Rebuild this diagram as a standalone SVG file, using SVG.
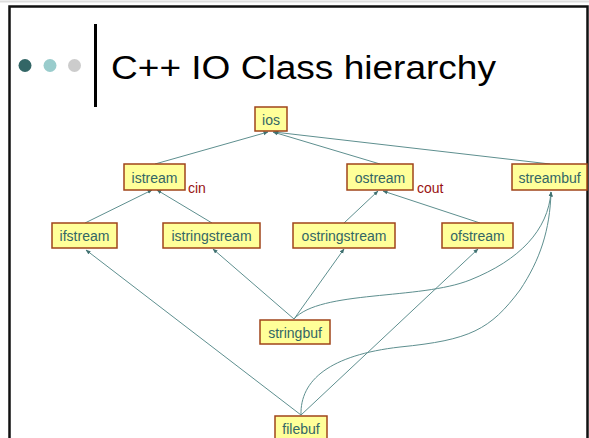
<svg xmlns="http://www.w3.org/2000/svg" width="589" height="438" viewBox="0 0 589 438">
<defs>
<style>
.box{fill:#FFFF99;stroke:#A0441A;stroke-width:1.5}
.lbl{font-family:"Liberation Sans",Arial,sans-serif;font-size:14px;fill:#336666;text-anchor:middle}
.var{font-family:"Liberation Sans",Arial,sans-serif;font-size:14px;fill:#991111}
.edge{fill:none;stroke:#5E8F8F;stroke-width:1;marker-end:url(#ah)}
</style>
<marker id="ah" viewBox="0 0 10 10" refX="9" refY="5" markerWidth="5" markerHeight="5" orient="auto" markerUnits="userSpaceOnUse">
<path d="M0,1 L10,5 L0,9 z" fill="#3F7070"/>
</marker>
</defs>
<rect width="589" height="438" fill="#ffffff"/>
<line x1="0" y1="1.5" x2="589" y2="1.5" stroke="#dddddd" stroke-width="2"/>
<rect x="9.5" y="6.5" width="578" height="440" fill="none" stroke="#111111" stroke-width="2.5"/>
<g id="title">
<circle cx="25" cy="65.5" r="6.5" fill="#336666"/>
<circle cx="50" cy="65.5" r="6.5" fill="#99CCCC"/>
<circle cx="74.5" cy="65.5" r="6.5" fill="#CCCCCC"/>
<rect x="94" y="24" width="3" height="83" fill="#000000"/>
<text x="111" y="78.5" font-family="'Liberation Sans',Arial,sans-serif" font-size="34" fill="#000000" textLength="385" lengthAdjust="spacingAndGlyphs">C++ IO Class hierarchy</text>
</g>
<g id="connectors">
<path class="edge" d="M155,164 L268,132"/>
<path class="edge" d="M380,164 L273,132"/>
<path class="edge" d="M550,164 L274,132"/>
<path class="edge" d="M85,223 L152,190"/>
<path class="edge" d="M212,223 L157,190"/>
<path class="edge" d="M344,223 L378,191"/>
<path class="edge" d="M480,223 L383,191"/>
<path class="edge" d="M294,319 L213,249"/>
<path class="edge" d="M294,319 L344,249"/>
<path class="edge" d="M294,319 C320,290 420,300 470,280 C520,260 548,230 551,192"/>
<path class="edge" d="M301,415 L86,250"/>
<path class="edge" d="M301,415 L478,249"/>
<path class="edge" d="M301,415 C300,380 330,355 400,347 C470,340 490,330 520,290 C540,260 550,230 551,192"/>
</g>
<g id="ios"><rect class="box" x="255" y="107" width="32" height="24"/><text class="lbl" x="271" y="124.5">ios</text></g>
<g id="istream"><rect class="box" x="124" y="164" width="61" height="26"/><text class="lbl" x="154.5" y="182.5">istream</text><text class="var" x="188" y="193">cin</text></g>
<g id="ostream"><rect class="box" x="347" y="164" width="66" height="26"/><text class="lbl" x="380" y="182.5">ostream</text><text class="var" x="417" y="193">cout</text></g>
<g id="streambuf"><rect class="box" x="512" y="164" width="75" height="26"/><text class="lbl" x="549.5" y="182.5">streambuf</text></g>
<g id="ifstream"><rect class="box" x="52" y="223" width="65" height="25"/><text class="lbl" x="84.5" y="240.5">ifstream</text></g>
<g id="istringstream"><rect class="box" x="163" y="223" width="97" height="25"/><text class="lbl" x="211.5" y="240.5">istringstream</text></g>
<g id="ostringstream"><rect class="box" x="293" y="223" width="102" height="25"/><text class="lbl" x="344" y="240.5">ostringstream</text></g>
<g id="ofstream"><rect class="box" x="442" y="223" width="71" height="25"/><text class="lbl" x="477.5" y="240.5">ofstream</text></g>
<g id="stringbuf"><rect class="box" x="260" y="320" width="70" height="24"/><text class="lbl" x="295" y="337.5">stringbuf</text></g>
<g id="filebuf"><rect class="box" x="275" y="416" width="52" height="25"/><text class="lbl" x="301" y="433.5">filebuf</text></g>
</svg>
